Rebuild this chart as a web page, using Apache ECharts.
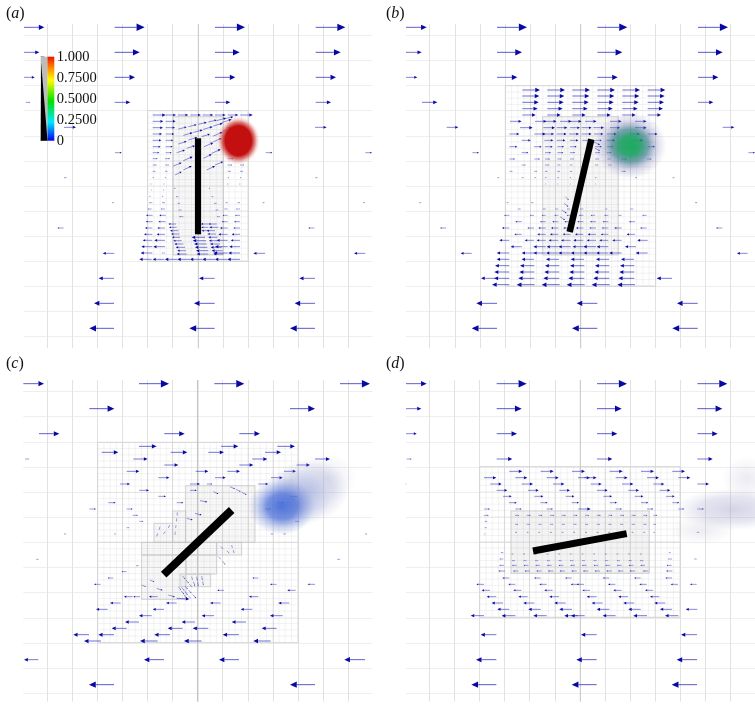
<!DOCTYPE html>
<html><head><meta charset="utf-8">
<style>html,body{margin:0;padding:0;background:#fff}#c{width:755px;height:705px}#c canvas{filter:blur(0.35px)}</style>
<script src="https://cdn.jsdelivr.net/npm/echarts@6/dist/echarts.min.js"></script>
</head><body><div id="c"></div>
<script>
// Each panel uses its own local scale (1 unit = 1/3 px). Rows: [y, tail, tip, tail, tip, ...]
var colorTicks = [0, 0.25, 0.5, 0.75, 1];
var colorTickLabels = ['0', '0.2500', '0.5000', '0.7500', '1.000'];
var colorStops = [[0,'#0000f0'],[0.22,'#00e8ff'],[0.47,'#00e000'],[0.72,'#ffff00'],[0.86,'#ff9000'],[1,'#f01000']];
var alphaWedge = [[0,0],[0.5,0],[0.03,0.93]];
var panelLabels = ['a','b','c','d'];

var gridXA=[142,217,292,367,442,517,670,745,820,895,970,1045], gridYA=[107,182,257,332,408,483,558,633,709,784,859,935,1010];
var gridXB=[149,226,301,376,451,526,677,752,827,902,977,1052], gridYB=gridYA;
var gridXC=[142,217,292,367,442,517,668,745,820,895,970,1045], gridYC=[125,200,277,352,428,502,577,652,728,805,880,955,1030];
var gridXD=[148,223,298,373,448,525,676,751,826,901,976,1051], gridYD=gridYC;
var centerA=595, centerB=602, centerC=593, centerD=601;

var boxesA=[[443,332,745,784,18.75],[520,350,670,765,4.7]];
var boxesB=[[376,257,827,859,18.75],[488,350,715,765,4.7]];
var boxesC=[[293,277,895,878,18.75],[293,577,895,577,0],[557,407,765,577,4.7],[518,483,557,577,4.7],[462,520,518,577,4.7],[425,577,650,615,4.7],[425,615,558,748,4.7],[558,615,650,672,4.7],[650,577,725,615,4.7],[540,672,632,710,4.7]];
var boxesD=[[299,350,901,803,18.75],[299,577,393,577,0],[808,577,901,577,0],[393,483,808,670,3.5]];

var rowsA=[
[82,72,133,344,434,645,735,947,1036],[157,72,118,344,419,645,719,947,1022],[232,72,104,344,405,645,706,947,1008],
[307,77,90,344,391,645,691,947,993],[382,192,228,945,980],[458,345,365,797,817,1096,1116],[533,192,200,946,953],
[608,336,342,788,794,1089,1095,457,447,495,486,720,712,683,676],[684,191,172,943,925],[760,343,308,795,760,1096,1062],
[835,342,296,644,597,945,898],[910,342,282,644,582,945,884],[985,342,268,644,568,945,870],
[345,458,497,497,528,533,565,571,603,608,640,645,677,683,715,721,758],
[364,458,490,497,527],[383,458,489,497,525,683,715],[402,458,486,497,523],[421,458,484,497,520],[440,458,482,497,518],
[458,458,478,497,515],[476,458,473,495,510,683,700],[495,458,470,495,507,683,697,720,733],[514,458,467,495,503,683,693,720,730],
[533,458,462,495,499,683,687,720,724],[552,453,455,492,494,683,685,720,722],[570,453,456,490,492],[589,450,452,488,490],
[627,455,443,495,482,720,708,683,672],[646,458,438,497,478,720,705,683,668],[665,458,437,497,475,720,702,683,665],
[684,457,435,495,472,720,700,683,660],[703,457,432,495,470,720,695,683,655],[721,457,428,495,463,720,692,683,650],
[740,457,424,495,460,720,688,683,645],[759,457,422,495,485,720,685,683,640],
[778,455,418,493,458,532,495,570,532,607,570,645,607,682,645,720,682],
[672,528,505,625,603,650,625],[682,530,507,625,604,655,628],[692,535,510,628,605,645,620],[702,538,513,648,622],
[712,540,516,615,575,652,625],[722,545,520,618,578,655,627],[732,550,523,620,582,660,630],[742,555,527,622,585,665,632],
[752,558,532,625,588,668,635],[762,560,530,625,590,670,640],
[565,527,522,630,626],[590,535,528,640,634],[610,540,532,650,642],[630,545,535,655,646],[650,550,538,660,650]];
var slantA=[[535,387,560,381],[565,380,590,374],[595,373,620,367],[625,366,650,360],[650,362,678,354],[672,357,700,350],
[550,406,578,398],[580,397,608,390],[610,388,638,380],[640,378,668,370],[665,368,695,358],
[535,432,560,424],[565,420,592,412],[605,410,630,402],[640,408,668,396],[668,394,695,385],
[530,458,555,450],[560,445,585,437],[612,440,640,428],[640,425,665,415],
[520,498,545,488],[550,482,578,470],[610,475,635,463],[635,460,662,448],
[525,525,545,515],[550,510,575,498],[620,510,645,498],[645,495,670,485]];

var rowsB=[
[82,78,140,351,441,652,742,954,1044],[157,78,125,351,426,652,727,954,1028],[232,78,112,351,412,652,713,954,1015],
[307,126,172,954,1000],[382,200,235,1028,1063],[458,277,297,1105,1125],[608,118,124,945,952,385,379,460,453],
[684,198,180,1027,1008,388,366,462,442,497,475,535,513,572,550,610,588,648,628,685,665,725,703,800,780],
[760,275,242,1103,1071],[910,351,289,652,590,953,891],[985,351,275,652,576,953,877],
[270,427,480,502,555,577,630,652,705,727,780,803,856],[288,427,478,502,553,577,628,652,703,727,778,803,854],
[307,427,476,502,551,577,626,652,701,727,776,803,852],[326,427,473,502,548,577,623,652,698,727,773,803,849],
[345,427,467,502,542,577,617,652,692,727,767,803,843],
[364,390,425,465,500,495,530,540,575,570,605,615,650,690,725,765,800],
[383,420,458,490,525,530,562,570,600,605,635,640,672,690,720,765,800],
[402,388,418,463,497,493,522,530,560,567,597,605,635,642,670,680,710,750,780,803,833],
[421,425,452,493,520,530,556,570,595,607,630,645,665,680,705,755,790],
[440,388,412,462,485,495,518,532,552,570,590,645,665,682,700,750,770,803,825],
[458,425,445,495,513,532,550,570,585,645,660,680,695],
[477,388,405,463,480,495,510,532,545,570,582,645,657,682,693,725,740,800,815],
[495,425,437,495,507,532,542,570,578,645,655,685,695],
[514,388,398,463,472,495,503,532,540,570,577,725,737],
[533,352,358,425,431,463,468,495,500,532,537,570,574,645,650,765,771,878,884],
[552,495,498,532,535,570,573,645,648],
[627,422,413,497,488,535,525,570,560,610,600,682,675,760,750],
[646,388,372,462,450,497,485,535,523,572,560,610,597,645,632,685,673,725,715,800,787],
[665,425,406,497,480,535,517,572,553,610,592,648,630,685,668,765,747],
[703,425,403,497,472,535,510,572,548,610,585,648,623,685,662,765,740],
[721,388,358,462,434,497,470,535,506,572,543,610,580,648,620,685,658,725,697,803,772],
[740,425,392,497,460,535,500,572,535,610,578,648,610,685,650,768,735],
[759,388,350,462,425,497,460,535,498,572,535,610,572,648,610,685,648,725,687,803,767],
[778,388,350,462,425,537,498,612,572,687,648,762,723],[797,388,345,463,420,538,495,613,570,688,645,763,720],
[816,388,343,463,418,538,493,613,568,688,643,763,718],
[835,388,342,345,303,463,415,538,490,613,565,688,640,763,715,876,830],
[854,388,336,464,410,539,485,614,560,689,635,765,712]];
var slantB=[[556,590,566,600],[552,610,565,620],[545,630,560,640],[540,650,555,660],[640,425,660,435],[645,445,660,452]];

var rowsC=[
[101,70,132,417,507,643,733,1020,1110],[176,268,343,870,945],[251,117,178,493,554,718,780],
[289,417,470,663,715,832,885],[307,305,355,512,562,625,672,795,843],[327,75,87,400,443,757,802,945,990],
[345,493,535,718,760,890,930],[364,380,418,587,625,682,720,852,888],[383,475,508,645,677,813,848],
[402,360,390,570,600,620,637,775,805],[421,418,447,570,590],[439,475,498,870,892],[458,325,347,530,550,830,852],
[477,268,288,380,398,795,812],[496,398,414],[514,418,430,885,897],[533,380,388],
[552,192,199,342,348,812,820,850,858,1095,1102],[628,109,116,1012,1020],[647,408,416],
[665,380,365],[684,340,323,775,757],[703,302,282,830,810,945,923],[721,887,862,672,652],
[740,398,372,420,400,473,447,775,747],[759,362,330,530,498,662,630,868,835],[778,323,288,492,458,757,722],
[797,455,417,642,605,848,810],[816,417,375,585,545,738,695],[835,380,335,548,503,625,578,830,785],
[854,267,220,342,295,510,463,717,668],[873,303,252,473,420,605,552,812,760],
[929,115,72,492,432,717,657,1095,1033],[1004,342,267,945,870]];
var slantC=[[690,410,705,417],[708,418,722,425],[725,427,740,434],[640,425,655,432],[600,452,622,456],[585,490,605,495],[560,505,578,510],
[535,710,543,720],[543,722,552,733],[552,735,560,745],[545,712,553,722],[555,724,563,735],[565,737,572,745],[555,708,563,718],[566,720,574,730],[578,733,588,745],
[548,678,556,688],[558,690,566,700],[568,702,575,710],[575,680,578,690],[580,695,585,708],[590,680,592,692],[593,696,595,708],[605,678,607,690],[608,694,610,706],
[655,620,662,628],[668,634,676,644],[662,590,670,596],[680,602,688,610],[695,585,697,595],[700,600,702,610],[532,487,531,497],[530,505,529,515],[528,525,527,535],[526,545,525,555],
[480,530,477,540],[473,550,470,560],[510,525,504,534],[496,544,490,553],
[450,690,463,696],[425,705,438,710],[470,715,488,721],[505,735,525,741],[530,745,568,747]];

var rowsD=[
[101,78,140,350,440,651,741,952,1042],[176,78,124,350,425,651,725,952,1027],[251,78,110,350,411,651,712,952,1013],
[327,80,95,350,397,651,697,952,998],[402,77,80,331,365,425,459,519,553,632,665,726,760,820,853,952,987],
[364,388,427,482,521,576,615,689,728,783,822,877,915],
[383,312,349,406,442,500,536,594,630,613,650,707,743,801,837,895,931],
[421,350,382,444,476,538,570,651,683,745,777,839,871],[439,369,395,463,490,557,583,670,696,764,790,858,884],
[458,387,410,481,503,575,597,689,711,783,805,877,898],
[477,312,330,406,425,500,519,595,632,707,726,801,820,895,913,952,972],
[496,312,326,405,417,440,452,475,487,510,522,545,557,580,592,615,627,650,662,685,697,720,732,755,767,790,802,820,832],
[514,314,322],[523,405,415,440,450,475,485,510,520,545,555,580,590,615,625,650,660,685,695,720,730,755,765,790,800,820,828],
[533,314,320],[547,405,411,440,446,475,481,510,516,545,551,580,586,615,621,650,656,685,691,720,726,755,761,790,796,950,958,820,825],
[552,313,317],[608,370,362,872,866],
[612,400,394,435,429,470,464,505,499,540,534,575,569,610,604,645,639,680,674,715,709,750,744,785,779],
[627,370,358,876,864,950,942],
[632,405,395,440,430,475,465,510,500,545,535,580,570,615,605,650,640,685,675,720,710,755,745,790,780],
[646,372,358,875,860,410,396,445,431,480,466,515,501,550,536,585,571,620,606,655,641,690,676,725,711,760,746,795,781],
[663,375,355,877,858,415,399,450,434,485,469,520,504,555,539,590,574,625,609,660,644,695,679,730,714,765,749,805,789],
[684,388,367,482,462,575,555,688,668,782,762,876,856],
[703,312,289,406,385,500,478,594,572,612,590,706,684,800,778,894,872,950,930],
[721,330,305,424,400,518,493,630,607,725,700,819,795],[740,349,320,443,415,537,508,650,620,744,715,838,810],
[759,369,335,463,430,557,523,668,635,763,730,856,823],[778,388,352,482,445,576,538,688,650,782,745,876,840,952,917],
[797,312,272,406,365,500,460,594,553,614,573,707,668,801,760,895,855],
[854,349,302,650,603,951,903],[929,349,288,650,589,951,890],[1004,349,274,650,575,951,875]];
var slantD=[];

var blobsA=[[715,422,64,72,[[0,'rgba(195,15,15,1)'],[0.62,'rgba(195,15,15,1)'],[0.78,'rgba(205,65,60,0.65)'],[0.9,'rgba(225,130,120,0.28)'],[1,'rgba(235,170,160,0)']]]];
var blobsB=[[750,437,110,100,[[0,'rgba(30,170,95,1)'],[0.28,'rgba(30,160,100,0.92)'],[0.5,'rgba(45,115,130,0.65)'],[0.72,'rgba(110,115,175,0.28)'],[1,'rgba(140,140,190,0)']]]];
var blobsC=[[985,385,85,75,[[0,'rgba(165,165,200,0.22)'],[1,'rgba(165,165,200,0)']]],
[930,420,115,95,[[0,'rgba(140,150,205,0.38)'],[0.6,'rgba(150,155,205,0.25)'],[1,'rgba(150,155,205,0)']]],
[885,445,105,90,[[0,'rgba(105,130,215,0.5)'],[1,'rgba(130,150,215,0)']]],
[845,470,100,85,[[0,'rgba(65,105,215,0.9)'],[0.45,'rgba(75,110,215,0.72)'],[0.75,'rgba(110,135,215,0.32)'],[1,'rgba(130,150,215,0)']]]];
var blobsD=[[1060,478,175,62,[[0,'rgba(135,135,190,0.36)'],[0.6,'rgba(150,150,195,0.24)'],[1,'rgba(160,160,200,0)']]],
[965,540,100,45,[[0,'rgba(170,170,195,0.22)'],[1,'rgba(170,170,195,0)']]],
[1100,385,75,65,[[0,'rgba(160,160,195,0.22)'],[1,'rgba(160,160,195,0)']]]];

var plateA=[[594,415,594,703,6.2]], plateB=[[634,418,569,696,6.5]], plateC=[[695,480,491,674,8]], plateD=[[740,551,459,603,7]];

var panels=[
{ox:0,oy:0,x:[72,1118],y:[72,1045],gx:gridXA,gy:gridYA,c:centerA,boxes:boxesA,rows:rowsA,slant:slantA,blobs:blobsA,plate:plateA},
{ox:380,oy:0,x:[78,1125],y:[72,1045],gx:gridXB,gy:gridYB,c:centerB,boxes:boxesB,rows:rowsB,slant:slantB,blobs:blobsB,plate:plateB},
{ox:0,oy:350,x:[70,1118],y:[90,1055],gx:gridXC,gy:gridYC,c:centerC,boxes:boxesC,rows:rowsC,slant:slantC,blobs:blobsC,plate:plateC},
{ox:380,oy:350,x:[78,1125],y:[90,1055],gx:gridXD,gy:gridYD,c:centerD,boxes:boxesD,rows:rowsD,slant:slantD,blobs:blobsD,plate:plateD}];

function toArrows(rows,slant){var out=[];rows.forEach(function(r){for(var i=1;i+1<r.length;i+=2)out.push([r[i],r[0],r[i+1],r[0]]);});return out.concat(slant);}

function arrowItem(p,api){
  var a=api.coord([api.value(0),api.value(1)]),b=api.coord([api.value(2),api.value(3)]);
  var dx=b[0]-a[0],dy=b[1]-a[1],L=Math.sqrt(dx*dx+dy*dy)||1,ux=dx/L,uy=dy/L,h=Math.max(0.27*L,1),w=Math.max(0.125*L,0.55);
  var bx=b[0]-ux*h,by=b[1]-uy*h;
  var pale=L>3?Math.min(0.85,0.4+L/50):0.5;
  return {type:'group',children:[
    {type:'line',shape:{x1:a[0],y1:a[1],x2:bx,y2:by},style:{stroke:'#2626bc',lineWidth:0.9,opacity:pale}},
    {type:'polygon',shape:{points:[[b[0],b[1]],[bx-uy*w,by+ux*w],[bx+uy*w,by-ux*w]]},style:{fill:'#0808a5',opacity:L<4?0.6:1}}
  ]};
}
function meshItem(p,api){
  var x0=api.value(0),y0=api.value(1),x1=api.value(2),y1=api.value(3),s=api.value(4),ch=[];
  function ln(ax,ay,bx,by,col,wd){var A=api.coord([ax,ay]),B=api.coord([bx,by]);ch.push({type:'line',shape:{x1:A[0],y1:A[1],x2:B[0],y2:B[1]},style:{stroke:col,lineWidth:wd}});}
  if(s>0){
    var col=s<15?'rgba(170,170,170,0.16)':'rgba(190,190,190,0.3)',wd=s<15?0.5:0.6;
    for(var x=x0+s;x<x1-1;x+=s)ln(x,y0,x,y1,col,wd);
    for(var y=y0+s;y<y1-1;y+=s)ln(x0,y,x1,y,col,wd);
    var bc=s<15?'rgba(195,195,195,0.7)':'#d6d6d6';
    ln(x0,y0,x1,y0,bc,1);ln(x0,y1,x1,y1,bc,1);ln(x0,y0,x0,y1,bc,1);ln(x1,y0,x1,y1,bc,1);
  } else ln(x0,y0,x1,y1,'#dcdcdc',1);
  return {type:'group',children:ch};
}
function blobItem(p,api,list){
  var d=list[api.value(0)],c=api.coord([d[0],d[1]]),r=50;
  return {type:'circle',x:c[0],y:c[1],scaleX:d[2]/3/r,scaleY:d[3]/3/r,shape:{cx:0,cy:0,r:r},
    style:{fill:new echarts.graphic.RadialGradient(0.5,0.5,0.5,d[4].map(function(s){return{offset:s[0],color:s[1]};}))}};
}
function plateItem(p,api){
  var a=api.coord([api.value(0),api.value(1)]),b=api.coord([api.value(2),api.value(3)]);
  return {type:'line',shape:{x1:a[0],y1:a[1],x2:b[0],y2:b[1]},style:{stroke:'#000',lineWidth:api.value(4),lineCap:'butt'}};
}

var grids=[],xAxes=[],yAxes=[],series=[],titles=[];
panels.forEach(function(P,i){
  grids.push({left:P.ox+P.x[0]/3,top:P.oy+P.y[0]/3,width:(P.x[1]-P.x[0])/3,height:(P.y[1]-P.y[0])/3,containLabel:false});
  xAxes.push({type:'value',gridIndex:i,min:P.x[0],max:P.x[1],axisLine:{show:false},axisLabel:{show:false},
    axisTick:{show:false,customValues:P.gx},splitLine:{show:true,lineStyle:{color:'#e2e2e2',width:1}}});
  yAxes.push({type:'value',gridIndex:i,inverse:true,min:P.y[0],max:P.y[1],axisLine:{show:false},axisLabel:{show:false},
    axisTick:{show:false,customValues:P.gy},splitLine:{show:true,lineStyle:{color:'#eeeeee',width:1}}});
  var common={coordinateSystem:'cartesian2d',xAxisIndex:i,yAxisIndex:i,silent:true,animation:false};
  series.push(Object.assign({},common,{type:'custom',z:1,encode:{x:[0,2],y:[1,3]},data:P.boxes.concat([[P.c,P.y[0],P.c,P.y[1],0]]),renderItem:function(p,api){
    if(api.value(0)===P.c&&api.value(2)===P.c){var A=api.coord([P.c,P.y[0]]),B=api.coord([P.c,P.y[1]]);
      return {type:'line',shape:{x1:A[0],y1:A[1],x2:B[0],y2:B[1]},style:{stroke:'#c4c4c4',lineWidth:i==2?1.4:1}};}
    return meshItem(p,api);}}));
  series.push(Object.assign({},common,{type:'custom',z:2,encode:{x:[0,2],y:[1,3]},data:toArrows(P.rows,P.slant),renderItem:arrowItem}));
  series.push(Object.assign({},common,{type:'custom',z:3,clip:true,encode:{x:1,y:2},data:P.blobs.map(function(b,k){return [k,b[0],b[1]];}),renderItem:function(p,api){return blobItem(p,api,P.blobs);}}));
  series.push(Object.assign({},common,{type:'custom',z:4,encode:{x:[0,2],y:[1,3]},data:P.plate,renderItem:plateItem}));
  titles.push({left:P.ox+1,top:P.oy+1,text:'{p|(}{i|'+panelLabels[i]+'}{p|)}',textStyle:{fontWeight:'normal',rich:{
    p:{fontFamily:'Liberation Serif',fontSize:16,fontStyle:'normal',fontWeight:'normal',color:'#111'},i:{fontFamily:'Liberation Serif',fontSize:16,fontStyle:'italic',fontWeight:'normal',color:'#111'}}}});
});
// colour bar
grids.push({left:40.7,top:56.7,width:13.6,height:84});
xAxes.push({type:'value',gridIndex:4,min:0,max:1,axisLine:{show:false},axisLabel:{show:false},axisTick:{show:false},splitLine:{show:false}});
yAxes.push({type:'value',gridIndex:4,min:0,max:1,interval:0.25,position:'right',axisLine:{show:false},splitLine:{show:false},
  axisTick:{show:true,length:3.5,lineStyle:{color:'#888',width:0.8}},
  axisLabel:{show:true,margin:2.5,fontFamily:'Liberation Serif',fontSize:14.5,color:'#111',
    formatter:function(v){return colorTickLabels[colorTicks.indexOf(v)];}}});
series.push({type:'custom',coordinateSystem:'cartesian2d',xAxisIndex:4,yAxisIndex:4,silent:true,animation:false,z:20,
  data:[[0,0]],encode:{x:0,y:1},renderItem:function(p,api){
    var tl=api.coord([0,1]),mid=api.coord([0.5,1]),br=api.coord([1,0]);
    return {type:'group',children:[
      {type:'rect',shape:{x:tl[0],y:tl[1],width:mid[0]-tl[0],height:br[1]-tl[1]},style:{fill:'#bdbdbd'}},
      {type:'polygon',shape:{points:alphaWedge.map(function(q){return api.coord(q);})},style:{fill:'#000'}},
      {type:'rect',shape:{x:mid[0],y:tl[1],width:br[0]-mid[0],height:br[1]-tl[1]},
       style:{fill:new echarts.graphic.LinearGradient(0,1,0,0,colorStops.map(function(s){return{offset:s[0],color:s[1]};}))}}
    ]};
  }});
var chart=echarts.init(document.getElementById('c'),null,{renderer:'canvas',width:755,height:705});
chart.setOption({animation:false,backgroundColor:'#fff',title:titles,grid:grids,xAxis:xAxes,yAxis:yAxes,series:series,tooltip:{show:false}});
</script></body></html>
